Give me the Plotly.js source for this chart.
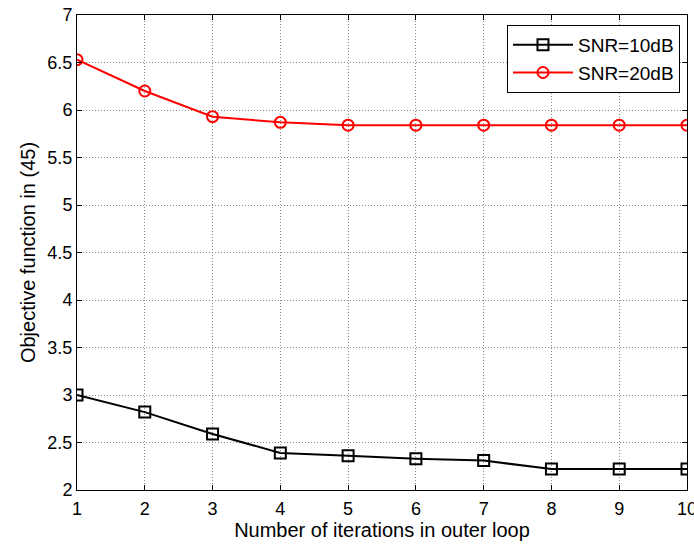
<!DOCTYPE html>
<html>
<head>
<meta charset="utf-8">
<script src="https://cdn.plot.ly/plotly-3.0.1.min.js"></script>
<style>html,body{margin:0;padding:0;background:#fff;}#chart{width:694px;height:544px;}</style>
</head>
<body>
<div id="chart"></div>
<script>
const iterations = [1, 2, 3, 4, 5, 6, 7, 8, 9, 10];
const snr10 = [3.00, 2.82, 2.59, 2.39, 2.36, 2.33, 2.31, 2.22, 2.22, 2.22];
const snr20 = [6.53, 6.20, 5.93, 5.87, 5.84, 5.84, 5.84, 5.84, 5.84, 5.84];
const seriesNames = ['SNR=10dB', 'SNR=20dB'];
const yTicks = [2, 2.5, 3, 3.5, 4, 4.5, 5, 5.5, 6, 6.5, 7];

const font = {family: 'Liberation Sans, Arial, sans-serif', color: '#000'};

const traces = [
  {x: iterations, y: snr10, name: seriesNames[0], mode: 'lines+markers',
   line: {color: '#000', width: 2},
   marker: {symbol: 'square-open', size: 11, color: '#000', line: {width: 2, color: '#000'}}},
  {x: iterations, y: snr20, name: seriesNames[1], mode: 'lines+markers',
   line: {color: '#ff0000', width: 2},
   marker: {symbol: 'circle-open', size: 11, color: '#ff0000', line: {width: 2, color: '#ff0000'}}}
];

const axisCommon = {
  showline: true, linecolor: '#000', linewidth: 1, mirror: 'allticks',
  ticks: 'inside', ticklen: 5, tickcolor: '#000', tickwidth: 1,
  showgrid: true, gridcolor: '#8c8c8c', griddash: '1px,2px', gridwidth: 1,
  zeroline: false, tickfont: Object.assign({size: 18}, font),
  ticklabeloverflow: 'allow', automargin: false
};

const layout = {
  width: 694, height: 544,
  margin: {l: 77, r: 7, t: 15, b: 54},
  paper_bgcolor: '#fff', plot_bgcolor: '#fff',
  font: font,
  showlegend: true,
  legend: {x: 0.9885, y: 0.979, xanchor: 'right', yanchor: 'top',
           bgcolor: '#fff', bordercolor: '#000', borderwidth: 1, itemwidth: 60,
           font: Object.assign({size: 19}, font), tracegroupgap: 0},
  xaxis: Object.assign({}, axisCommon, {
    range: [1, 10], tickvals: iterations, ticktext: iterations.map(String),
    ticklabelstandoff: 2,
    title: {text: 'Number of iterations in outer loop', font: Object.assign({size: 20}, font), standoff: 4}
  }),
  yaxis: Object.assign({}, axisCommon, {
    range: [2, 7], tickvals: yTicks, ticktext: yTicks.map(String),
    ticklabelstandoff: 0,
    title: {text: 'Objective function in (45)', font: Object.assign({size: 20}, font), standoff: 6}
  })
};

Plotly.newPlot('chart', traces, layout, {displayModeBar: false, staticPlot: true});
</script>
</body>
</html>
